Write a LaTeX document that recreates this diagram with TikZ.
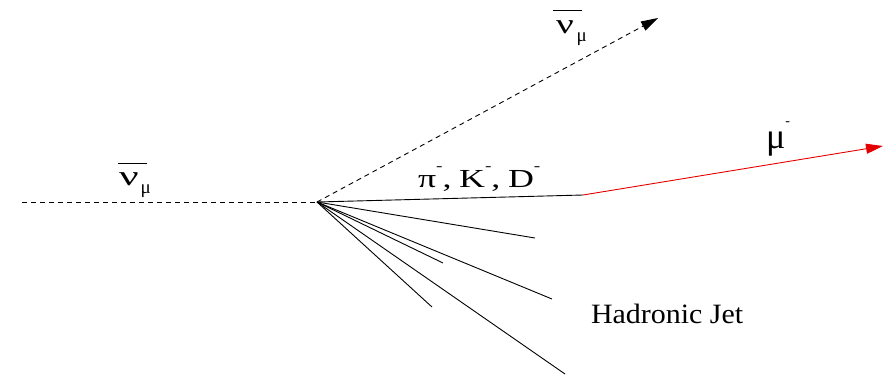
\documentclass[tikz,border=0pt]{standalone}
\usepackage{fontspec}
\setmainfont{Liberation Serif}
\usetikzlibrary{arrows.meta}
\newcommand\mybar[2]{\rlap{\kern#1\raisebox{#2}{\rule{1.05em}{0.9pt}}}}
\newcommand\mysupminus{\raisebox{0.62em}{\fontsize{14}{14}\selectfont -}}
\tikzset{
  lbl/.style={anchor=base west, inner sep=0pt, outer sep=0pt},
  thinline/.style={line width=0.9pt, black},
  dashline/.style={line width=0.9pt, black, dash pattern=on 5pt off 4pt},
  tip/.style={-{Triangle[length=17pt,width=10pt]}},
}
\begin{document}
\begin{tikzpicture}[x=1pt,y=-1pt]
\useasboundingbox (0,0) rectangle (890,376);
% vertex and end points
\coordinate (v) at (317,202);
\coordinate (in) at (22,202);
\coordinate (nuout) at (658,18);
\coordinate (had) at (583,195);
\coordinate (muend) at (883,146);
\coordinate (j1) at (535,238);
\coordinate (j2) at (443,263);
\coordinate (j3) at (552,299);
\coordinate (j4) at (432,307);
\coordinate (j5) at (565,374);
% lines
\draw[dashline] (in) -- (v);
\draw[dashline, tip] (v) -- (nuout);
\draw[thinline] (v) -- (had);
\draw[line width=0.9pt, red!90!black, tip] (had) -- (muend);
\foreach \j in {j1,j2,j3,j4,j5} \draw[thinline] (v) -- (\j);
% labels
\node[lbl, font=\fontsize{28}{28}\selectfont] (nubarL) at (119,185)
  {\mybar{-1pt}{0.75em}\scalebox{1.55}[1]{ν}\kern2pt\raisebox{-0.3em}{\fontsize{19}{19}\selectfont μ}};
\node[lbl, font=\fontsize{28}{28}\selectfont] (nubarT) at (556,33)
  {\mybar{-3pt}{0.78em}\scalebox{1.4}[1]{ν}\kern3pt\raisebox{-0.3em}{\fontsize{19}{19}\selectfont μ}};
\node[lbl, font=\fontsize{26}{26}\selectfont] (pkd) at (418,187)
  {\scalebox{1.38}[1]{π\mysupminus,\kern-1pt\ K\mysupminus,\kern-1pt\ D\mysupminus}};
\node[lbl, font=\fontsize{36}{36}\selectfont] (mu) at (766,148)
  {μ\mysupminus};
\node[lbl, font=\fontsize{28}{28}\selectfont] (jet) at (591,323) {\scalebox{1.07}[1]{Hadronic Jet}};
\end{tikzpicture}
\end{document}
